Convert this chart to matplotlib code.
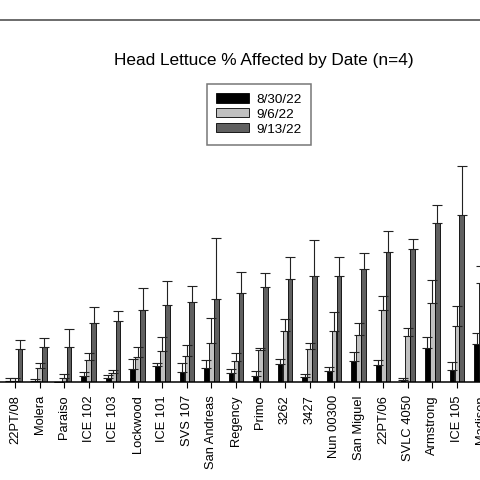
import matplotlib
matplotlib.use("Agg")
import matplotlib.pyplot as plt
import numpy as np

plt.rcParams['font.family'] = ['Liberation Sans', 'DejaVu Sans']

varieties = ["22PT/08", "Molera", "Paraiso", "ICE 102", "ICE 103", "Lockwood",
             "ICE 101", "SVS 107", "San Andreas", "Regency", "Primo", "3262",
             "3427", "Nun 00300", "San Miguel", "22PT/06", "SVLC 4050",
             "Armstrong", "ICE 105", "Madison"]

# % affected, mean per date
aug30 = [0.4, 0.2, 0.0, 1.6, 1.2, 3.5, 4.4, 2.8, 4.0, 2.5, 1.7, 5.1,
         1.3, 2.9, 5.8, 4.6, 0.6, 9.3, 3.4, 10.5]
sep06 = [0.4, 3.8, 1.2, 6.1, 2.4, 6.8, 8.6, 7.2, 10.9, 5.9, 8.8, 14.0,
         9.0, 14.2, 12.9, 19.9, 12.8, 21.7, 15.6, 27.4]
sep13 = [9.1, 9.8, 9.8, 16.2, 16.8, 19.9, 21.3, 22.0, 22.9, 24.5, 26.1, 28.4,
         29.4, 29.4, 31.2, 35.8, 36.7, 44.0, 46.2, 45.0]

# standard errors (upper bars only)
aug30_se = [0.6, 0.6, 0.0, 1.1, 0.6, 2.8, 0.9, 2.4, 2.0, 1.0, 1.3, 1.2,
            0.8, 1.2, 2.4, 1.5, 0.4, 3.1, 2.2, 3.1]
sep06_se = [0.6, 1.4, 1.1, 1.8, 0.8, 2.8, 3.7, 3.0, 6.7, 2.0, 0.5, 3.5,
            1.7, 5.0, 3.3, 3.9, 2.0, 6.5, 5.5, 4.6]
sep13_se = [2.5, 2.3, 4.9, 4.5, 2.9, 6.0, 6.6, 4.6, 16.9, 6.0, 4.1, 6.1,
            9.7, 5.2, 4.5, 5.9, 2.7, 5.0, 13.5, 7.0]

dates = ["8/30/22", "9/6/22", "9/13/22"]
colors = ["#000000", "#c0c0c0", "#606060"]

fig = plt.figure(figsize=(4.8, 4.8), dpi=100)
# plot area is wider than the figure: the y axis and the last groups are cut off
ax = fig.add_axes([-0.0199, 0.2042, 1.074, 0.7542])

x = np.arange(len(varieties))
w = 0.19
for i, (vals, se) in enumerate([(aug30, aug30_se), (sep06, sep06_se), (sep13, sep13_se)]):
    ax.bar(x + (i - 1) * 0.2, vals, width=w, color=colors[i], edgecolor="black",
           linewidth=0.6, label=dates[i],
           yerr=[np.zeros(len(se)), se], capsize=3.5,
           error_kw=dict(ecolor="#222222", elinewidth=0.8, capthick=0.8))

ax.set_xlim(-1, 20)
ax.set_ylim(0, 100)
ax.set_xticks(x)
ax.set_xticklabels(varieties, rotation=90, fontsize=9.3)
ax.tick_params(axis='x', direction='out', length=4.5, width=0.8, pad=5)
ax.tick_params(axis='y', left=False, labelleft=False)
for s in ["top", "bottom"]:
    ax.spines[s].set_linewidth(1.1)
ax.spines["top"].set_color("#444444")

fig.text(264 / 480, 1 - 60 / 480, "Head Lettuce % Affected by Date (n=4)",
         ha="center", va="center", fontsize=12.4)

leg = ax.legend(loc="upper left", bbox_to_anchor=(207 / 480, 1 - 84 / 480),
                bbox_transform=fig.transFigure, fontsize=9.7, fancybox=False,
                handlelength=2.4, handleheight=0.66, handletextpad=0.55,
                labelspacing=0.2, borderpad=0.7, borderaxespad=0)
leg.get_frame().set_edgecolor("#555555")
leg.get_frame().set_linewidth(1.1)

fig.savefig("out.png", dpi=100)
